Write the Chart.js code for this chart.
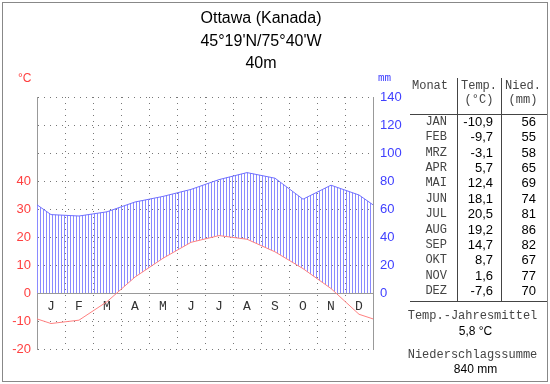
<!DOCTYPE html>
<html>
<head>
<meta charset="utf-8">
<title>Ottawa Klimadiagramm</title>
<script src="https://cdn.jsdelivr.net/npm/chart.js@4.4.0/dist/chart.umd.min.js"></script>
<style>
  body { margin: 0; background: #fff; }
  #wrap { position: relative; width: 550px; height: 384px; overflow: hidden; font-family: "Liberation Sans", Arial, sans-serif; }
  #frame { position: absolute; left: 2px; top: 2px; width: 544px; height: 378px; border: 1px solid #888; }
  #chartBox { position: absolute; left: 0; top: 0; width: 410px; height: 384px; }
  .t { position: absolute; white-space: nowrap; line-height: 16px; height: 16px; }
  .title { left: 161px; width: 200px; text-align: center; font-size: 16px; color: #000; line-height: 20px; height: 20px; }
  .mono { font-family: "Liberation Mono", "DejaVu Sans Mono", monospace; font-size: 12px; color: #444; }
  .num { font-family: "Liberation Sans", Arial, sans-serif; font-size: 13px; color: #000; }
  .r { text-align: right; }
  .c { text-align: center; }
  .hl { position: absolute; height: 1px; background: #444; }
  .vl { position: absolute; width: 1px; background: #444; }
</style>
</head>
<body>
<div id="wrap">
  <div id="frame"></div>
  <div id="chartBox"><canvas id="chart" width="410" height="384"></canvas></div>
  <div class="t title" style="top:8px">Ottawa (Kanada)</div>
  <div class="t title" style="top:31px">45°19'N/75°40'W</div>
  <div class="t title" style="top:53px">40m</div>
  <div class="t" style="left:18px;top:70px;font-size:12px;color:#ff4040">°C</div>
  <div class="t mono" style="left:378px;top:70px;font-size:11px;color:#4040ff">mm</div>
  <div id="table"></div>
</div>
<script>
// Ottawa (Kanada) - Monatswerte
const monthLetters = ['J', 'F', 'M', 'A', 'M', 'J', 'J', 'A', 'S', 'O', 'N', 'D'];
const monthNames = ['JAN', 'FEB', 'MRZ', 'APR', 'MAI', 'JUN', 'JUL', 'AUG', 'SEP', 'OKT', 'NOV', 'DEZ'];
const temps = [-10.9, -9.7, -3.1, 5.7, 12.4, 18.1, 20.5, 19.2, 14.7, 8.7, 1.6, -7.6];
const precip = [56, 55, 58, 65, 69, 74, 81, 86, 82, 67, 77, 70];
const tempTicks = [-20, -10, 0, 10, 20, 30, 40];
const precipTicks = [0, 20, 40, 60, 80, 100, 120, 140];

// Punkte in Monatsmitte, Rand = Mittel aus Dez/Jan
function toPoints(vals) {
    const edge = (vals[0] + vals[vals.length - 1]) / 2;
    const pts = [{ x: 0, y: edge }];
    vals.forEach((v, i) => pts.push({ x: i + 0.5, y: v }));
    pts.push({ x: 12, y: edge });
    return pts;
}
const tempPts = toPoints(temps);
const precipPts = toPoints(precip);

// Schraffur zwischen Niederschlag und Temperatur (oberhalb 0)
const hatch = {
    id: 'hatch',
    beforeDatasetsDraw(chart) {
        const { ctx, chartArea: a, scales } = chart;
        const x = scales.x, yt = scales.y, yp = scales.y1;
        const y0 = yt.getPixelForValue(0);
        ctx.save();
        ctx.beginPath();
        precipPts.forEach((p, i) => {
            const px = x.getPixelForValue(p.x), py = yp.getPixelForValue(p.y);
            i ? ctx.lineTo(px, py) : ctx.moveTo(px, py);
        });
        ctx.lineTo(a.right, y0);
        ctx.lineTo(a.left, y0);
        ctx.closePath();
        ctx.clip();
        ctx.beginPath();
        tempPts.forEach((p, i) => {
            const px = x.getPixelForValue(p.x), py = yt.getPixelForValue(p.y);
            i ? ctx.lineTo(px, py) : ctx.moveTo(px, py);
        });
        ctx.lineTo(a.right, a.top);
        ctx.lineTo(a.left, a.top);
        ctx.closePath();
        ctx.clip();
        ctx.strokeStyle = '#8a8aff';
        ctx.lineWidth = 1;
        ctx.beginPath();
        for (let px = Math.round(a.left) + 0.5; px <= a.right; px += 3) {
            ctx.moveTo(px, a.top);
            ctx.lineTo(px, y0);
        }
        ctx.stroke();
        ctx.restore();
    }
};

const monoFont = '"Liberation Mono", "DejaVu Sans Mono", monospace';
const sansFont = '"Liberation Sans", Arial, sans-serif';
const chart = document.getElementById('chart');

new Chart(chart, {
    type: 'line',
    data: {
        datasets: [
            {
                label: 'Niederschlag',
                data: precipPts,
                xAxisID: 'x',
                yAxisID: 'y1',
                borderColor: '#7070ff',
                borderWidth: 1,
                pointRadius: 0
            },
            {
                label: 'Temperatur',
                data: tempPts,
                xAxisID: 'x',
                yAxisID: 'y',
                borderColor: '#ff8080',
                borderWidth: 1,
                pointRadius: 0
            }
        ]
    },
    options: {
        responsive: false,
        animation: false,
        layout: { padding: { top: 97, bottom: 35, left: 0, right: 0 } },
        plugins: {
            legend: { display: false },
            tooltip: { enabled: false }
        },
        scales: {
            x: {
                type: 'linear',
                min: 0,
                max: 12,
                position: 'bottom',
                ticks: { display: false, stepSize: 1 },
                grid: { color: '#777', drawTicks: false },
                border: { display: false, dash: [1, 5] },
                afterFit: s => { s.height = 0; }
            },
            xl: {
                type: 'linear',
                min: -0.5,
                max: 11.5,
                position: { y: 0 },
                afterBuildTicks: s => { s.ticks = monthLetters.map((m, i) => ({ value: i })); },
                ticks: {
                    autoSkip: false,
                    maxRotation: 0,
                    padding: 6,
                    color: '#333',
                    font: { family: monoFont, size: 13 },
                    callback: v => monthLetters[v]
                },
                grid: { drawOnChartArea: false, drawTicks: false },
                border: { display: true, color: '#999' }
            },
            y: {
                type: 'linear',
                position: 'left',
                min: -20,
                max: 70,
                ticks: {
                    stepSize: 10,
                    padding: 6,
                    color: '#ff4040',
                    font: { family: sansFont, size: 13 },
                    callback: v => tempTicks.includes(v) ? String(v) : ''
                },
                grid: { color: '#777', drawTicks: false },
                border: { display: true, color: '#999', dash: c => (c.tick && c.tick.value === 0) ? [] : [1, 5] },
                afterFit: s => { s.width = 37; }
            },
            y1: {
                type: 'linear',
                position: 'right',
                min: -40,
                max: 140,
                ticks: {
                    stepSize: 20,
                    padding: 7,
                    color: '#4040ff',
                    font: { family: sansFont, size: 13 },
                    callback: v => precipTicks.includes(v) ? String(v) : ''
                },
                grid: { drawOnChartArea: false, drawTicks: false },
                border: { display: true, color: '#999' },
                afterFit: s => { s.width = 37; }
            }
        }
    },
    plugins: [hatch]
});

// Tabelle rechts
const table = document.getElementById('table');
function add(cls, text, style) {
    const d = document.createElement('div');
    d.className = 't ' + cls;
    d.textContent = text;
    d.setAttribute('style', style);
    table.appendChild(d);
}
function line(cls, style) {
    const d = document.createElement('div');
    d.className = cls;
    d.setAttribute('style', style);
    table.appendChild(d);
}
const fmt = v => v.toFixed(1).replace('.', ',');

add('mono', 'Monat', 'left:412px;top:78px');
add('mono c', 'Temp.', 'left:457px;width:44px;top:78px');
add('mono c', '(°C)', 'left:457px;width:44px;top:92px');
add('mono c', 'Nied.', 'left:501px;width:44px;top:78px');
add('mono c', '(mm)', 'left:501px;width:44px;top:92px');
line('vl', 'left:457px;top:78px;height:223px');
line('vl', 'left:501px;top:78px;height:223px');
line('hl', 'left:410px;top:114px;width:137px');
line('hl', 'left:410px;top:301px;width:137px');

monthNames.forEach((m, i) => {
    const top = Math.round(114 + i * 15.36);
    add('mono r', m, 'left:410px;width:37px;top:' + top + 'px');
    add('num r', fmt(temps[i]), 'left:457px;width:36px;top:' + top + 'px');
    add('num r', String(precip[i]), 'left:501px;width:35px;top:' + top + 'px');
});

const mean = temps.reduce((s, v) => s + v, 0) / temps.length;
const sum = precip.reduce((s, v) => s + v, 0);
add('mono c', 'Temp.-Jahresmittel', 'left:404px;width:137px;top:308px');
add('num c', fmt(mean) + ' °C', 'left:407px;width:137px;top:323px;font-size:12px');
add('mono c', 'Niederschlagssumme', 'left:404px;width:137px;top:347px');
add('num c', sum + ' mm', 'left:407px;width:137px;top:361px;font-size:12px');
</script>
</body>
</html>
